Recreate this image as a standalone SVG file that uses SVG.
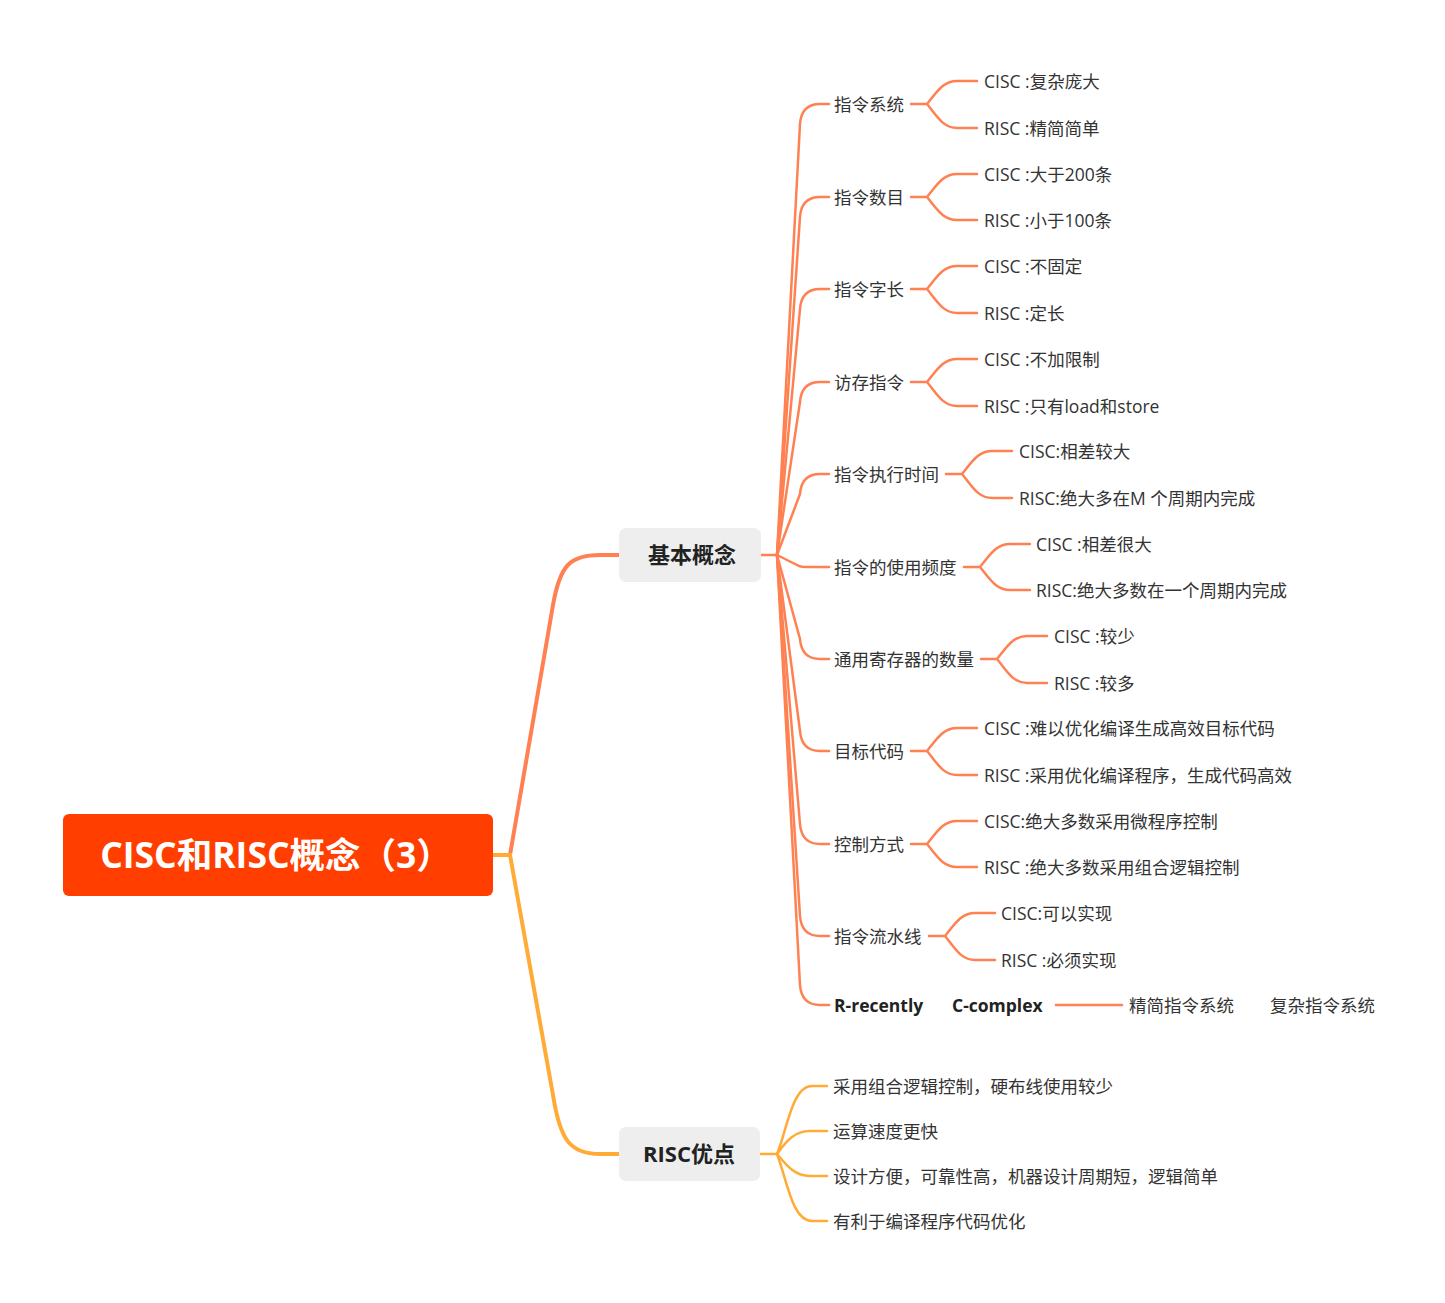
<svg xmlns="http://www.w3.org/2000/svg" width="1445" height="1303" viewBox="0 0 1445 1303">
<style>
text{font-family:"Open Sans","Noto Sans CJK SC",sans-serif;fill:#333333;}
.t{font-size:17.5px;}
.g{font-size:17.5px;}
.b{font-size:17.5px;font-weight:bold;fill:#222;}
.main{font-size:22px;font-weight:bold;fill:#222;}
.root{font-size:35.5px;font-weight:bold;fill:#ffffff;}
.lc{fill:none;stroke:#FF8152;stroke-width:2.5;stroke-linecap:round;}
.ly{fill:none;stroke:#FFAB36;stroke-width:2.5;stroke-linecap:round;}
.tc{fill:none;stroke:#FF8152;stroke-width:4;}
.ty{fill:none;stroke:#FFAB36;stroke-width:4;}
</style>
<rect width="1445" height="1303" fill="#ffffff"/>
<g id="connectors">
<path class="tc" d="M510 855 L553 605 C560 565 570 555 600 555 H620"/>
<path class="ty" d="M510 855 L553 1095 C560 1140 570 1154 600 1154 H620"/>
<path class="ty" d="M493 855 H512"/>
<path class="lc" d="M761 555 H777"/>
<path class="lc" d="M777 555 L800 124 Q801.5 104 820 104 H829"/>
<path class="lc" d="M777 555 L800 217 Q801.5 197 820 197 H829"/>
<path class="lc" d="M777 555 L800 309 Q801.5 289 820 289 H829"/>
<path class="lc" d="M777 555 L800 402 Q801.5 382 820 382 H829"/>
<path class="lc" d="M777 555 L800 494 Q801.5 474 820 474 H829"/>
<path class="lc" d="M777 555 L797 565 Q800 567 806 567 H829"/>
<path class="lc" d="M777 555 L800 639 Q801.5 659 820 659 H829"/>
<path class="lc" d="M777 555 L800 731 Q801.5 751 820 751 H829"/>
<path class="lc" d="M777 555 L800 824 Q801.5 844 820 844 H829"/>
<path class="lc" d="M777 555 L800 916 Q801.5 936 820 936 H829"/>
<path class="lc" d="M777 555 L800 985 Q801.5 1005 820 1005 H829"/>
<path class="lc" d="M911 104 H927 C937 92 943 81 957 81 H977 M927 104 C937 116 943 128 957 128 H977"/>
<path class="lc" d="M911 197 H927 C937 185 943 174 957 174 H977 M927 197 C937 209 943 220 957 220 H977"/>
<path class="lc" d="M911 289 H927 C937 277 943 266 957 266 H977 M927 289 C937 301 943 313 957 313 H977"/>
<path class="lc" d="M911 382 H927 C937 370 943 359 957 359 H977 M927 382 C937 394 943 406 957 406 H977"/>
<path class="lc" d="M946 474 H962 C972 462 978 451 992 451 H1012 M962 474 C972 486 978 498 992 498 H1012"/>
<path class="lc" d="M964 567 H980 C990 555 996 544 1010 544 H1030 M980 567 C990 579 996 590 1010 590 H1030"/>
<path class="lc" d="M981 659 H997 C1007 647 1013 636 1027 636 H1047 M997 659 C1007 671 1013 683 1027 683 H1047"/>
<path class="lc" d="M911 751 H927 C937 739 943 728 957 728 H977 M927 751 C937 763 943 775 957 775 H977"/>
<path class="lc" d="M911 844 H927 C937 832 943 821 957 821 H977 M927 844 C937 856 943 867 957 867 H977"/>
<path class="lc" d="M929 936 H945 C955 924 961 913 975 913 H995 M945 936 C955 948 961 960 975 960 H995"/>
<path class="lc" d="M1056 1005 H1122"/>
<path class="ly" d="M760 1154 H777"/>
<path class="ly" d="M777 1154 C787 1130 792 1086 812 1086 H827"/>
<path class="ly" d="M777 1154 C787 1140 795 1131 810 1131 H827"/>
<path class="ly" d="M777 1154 C787 1166 795 1176 810 1176 H827"/>
<path class="ly" d="M777 1154 C787 1180 792 1221 812 1221 H827"/>
</g>
<g id="root">
<rect x="63" y="814" width="430" height="82" rx="6" fill="#FF3E00"/>
<text class="root" x="276" y="868" text-anchor="middle">CISC和RISC概念（3）</text>
</g>
<g id="n-basic">
<rect x="619" y="528" width="142" height="54" rx="7" fill="#EEEEEE"/>
<text class="main" x="692" y="563" text-anchor="middle">基本概念</text>
</g>
<g id="n-risc-adv">
<rect x="619" y="1127" width="141" height="54" rx="7" fill="#EEEEEE"/>
<text class="main" x="689" y="1162" text-anchor="middle">RISC优点</text>
</g>
<g id="c1"><text class="t" x="834" y="111">指令系统</text></g>
<g id="c1a"><text class="g" x="984" y="88">CISC :复杂庞大</text></g>
<g id="c1b"><text class="g" x="984" y="135">RISC :精简简单</text></g>
<g id="c2"><text class="t" x="834" y="204">指令数目</text></g>
<g id="c2a"><text class="g" x="984" y="181">CISC :大于200条</text></g>
<g id="c2b"><text class="g" x="984" y="227">RISC :小于100条</text></g>
<g id="c3"><text class="t" x="834" y="296">指令字长</text></g>
<g id="c3a"><text class="g" x="984" y="273">CISC :不固定</text></g>
<g id="c3b"><text class="g" x="984" y="320">RISC :定长</text></g>
<g id="c4"><text class="t" x="834" y="389">访存指令</text></g>
<g id="c4a"><text class="g" x="984" y="366">CISC :不加限制</text></g>
<g id="c4b"><text class="g" x="984" y="413">RISC :只有load和store</text></g>
<g id="c5"><text class="t" x="834" y="481">指令执行时间</text></g>
<g id="c5a"><text class="g" x="1019" y="458">CISC:相差较大</text></g>
<g id="c5b"><text class="g" x="1019" y="505">RISC:绝大多在M 个周期内完成</text></g>
<g id="c6"><text class="t" x="834" y="574">指令的使用频度</text></g>
<g id="c6a"><text class="g" x="1036" y="551">CISC :相差很大</text></g>
<g id="c6b"><text class="g" x="1036" y="597">RISC:绝大多数在一个周期内完成</text></g>
<g id="c7"><text class="t" x="834" y="666">通用寄存器的数量</text></g>
<g id="c7a"><text class="g" x="1054" y="643">CISC :较少</text></g>
<g id="c7b"><text class="g" x="1054" y="690">RISC :较多</text></g>
<g id="c8"><text class="t" x="834" y="758">目标代码</text></g>
<g id="c8a"><text class="g" x="984" y="735">CISC :难以优化编译生成高效目标代码</text></g>
<g id="c8b"><text class="g" x="984" y="782">RISC :采用优化编译程序，生成代码高效</text></g>
<g id="c9"><text class="t" x="834" y="851">控制方式</text></g>
<g id="c9a"><text class="g" x="984" y="828">CISC:绝大多数采用微程序控制</text></g>
<g id="c9b"><text class="g" x="984" y="874">RISC :绝大多数采用组合逻辑控制</text></g>
<g id="c10"><text class="t" x="834" y="943">指令流水线</text></g>
<g id="c10a"><text class="g" x="1001" y="920">CISC:可以实现</text></g>
<g id="c10b"><text class="g" x="1001" y="967">RISC :必须实现</text></g>
<g id="c11"><text class="b" x="834" y="1012">R-recently<tspan x="952">C-complex</tspan></text></g>
<g id="c11a"><text class="g" x="1129" y="1012">精简指令系统<tspan x="1270">复杂指令系统</tspan></text></g>
<g id="r1"><text class="t" x="833" y="1093">采用组合逻辑控制，硬布线使用较少</text></g>
<g id="r2"><text class="t" x="833" y="1138">运算速度更快</text></g>
<g id="r3"><text class="t" x="833" y="1183">设计方便，可靠性高，机器设计周期短，逻辑简单</text></g>
<g id="r4"><text class="t" x="833" y="1228">有利于编译程序代码优化</text></g>
</svg>
